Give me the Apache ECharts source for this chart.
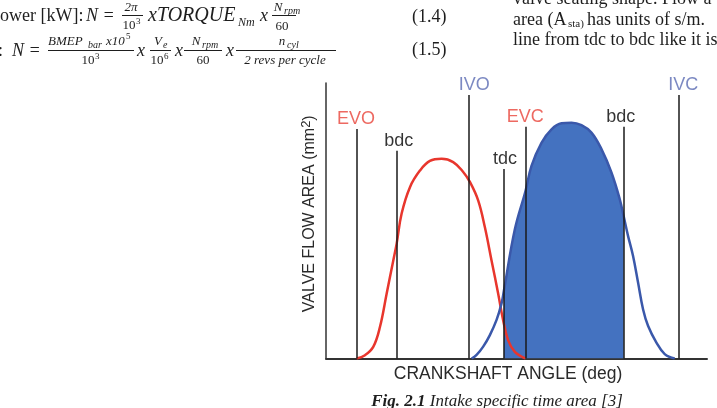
<!DOCTYPE html>
<html><head><meta charset="utf-8">
<script src="https://cdn.jsdelivr.net/npm/echarts@6/dist/echarts.min.js"></script>
<style>html,body{margin:0;padding:0;background:#fff}#c{width:717px;height:408px}</style>
</head><body><div id="c"></div>
<script>
// Exhaust valve flow area (red)
const redAngle = [116.6,129.8,142.9,153.6,164.2,174.6,180,187.9,201.1,216.9,232.7,251.3,269.6,285.5,296.1,309.2,319.8,330.5,340.9,348.8,356.8,367.4,380.5,384.3];
const redArea  = [0,1.2,4.2,11.5,23.6,35.5,41.7,52.6,62.2,68.2,71.7,72.5,71.3,67.7,64.1,57.4,47.7,35.5,23.6,13.9,6.6,2.4,0.4,0];
// Intake valve flow area (blue)
const blueAngle = [298.8,306.7,317.2,327.8,338.4,346.3,350,367.4,384.3,393.8,409.6,425.5,441.3,457.2,473,488.8,504.7,520.5,533.7,540,546.8,554.7,562.7,570.6,578.5,591.8,605,620.8];
const blueArea  = [0,1.3,4.3,8.5,14,20,24.6,46.9,60.8,69.9,78.3,83.2,85.4,85.6,84.7,82,76,67.5,57.8,51.5,44.5,37.3,27.6,17.9,11.9,5.8,1.6,0];
// Event markers
const markerNames  = ['EVO','bdc','IVO','tdc','EVC','bdc','IVC'];
const markerAngles = [117,180,295,350,384,540,628];
const markerTops   = [83.3,75.4,95.6,68.8,84.1,84.1,95.6];
const markerKinds  = ['exh','dc','int','dc','exh','dc','int'];
const shadeFrom = 350, shadeTo = 540;
const xTitle = 'CRANKSHAFT ANGLE (deg)';
const yTitle = 'VALVE FLOW AREA (mm{s|2})';
const caption = ['Fig. 2.1', ' Intake specific time area [3]'];

const kindColor = {exh:'#e8443a', int:'#5b6cb3', dc:'#000'};
const labelDx = [-1,2,5,1,0,-3,4];

const red = redAngle.map((a,i)=>[a, redArea[i]]);
const blue = blueAngle.map((a,i)=>[a, blueArea[i]]);
const shade = blue.filter(p => p[0] >= shadeFrom && p[0] <= shadeTo);

const serif = 'Liberation Serif';
const G = [];
function t(x, y, text, o) {
  o = o || {};
  G.push({type:'text', x, y, silent:true, style:{
    text, fill:o.color||'#1e1e1e', font:(o.style||'normal')+' '+(o.weight||'normal')+' '+(o.size||18)+'px "'+(o.family||serif)+'"',
    textAlign:o.align||'left', textVerticalAlign:'middle', verticalAlign:'middle'}});
}
function bar(x1, x2, y) {
  G.push({type:'line', silent:true, shape:{x1, y1:y, x2, y2:y}, style:{stroke:'#1e1e1e', lineWidth:1}});
}
// Equation 1.4
t(0,16,'ower [kW]: ');
t(86,16,'N =',{style:'italic'});
t(131,8,'2π',{size:13,align:'center',style:'italic'});
bar(122,143,15.5);
t(129,26,'10',{size:13,align:'center'}); t(136,22,'3',{size:9});
t(148,16,'xTORQUE',{style:'italic',size:20});
t(238,23,'Nm',{style:'italic',size:12});
t(260,16,'x',{style:'italic'});
t(278,8,'N',{size:13,align:'center',style:'italic'}); t(284,11,'rpm',{size:10,style:'italic'});
bar(272,296,15.5);
t(282,27,'60',{size:13,align:'center'});
t(412,17,'(1.4)');
// Equation 1.5
t(-2,51,':');
t(12,51,'N =',{style:'italic'});
t(48,42,'BMEP',{size:13,style:'italic'}); t(88,45,'bar',{size:10,style:'italic'});
t(106,42,'x10',{size:13,style:'italic'}); t(126,37,'5',{size:9});
bar(48,134,50.5);
t(88,61,'10',{size:13,align:'center'}); t(95,57,'3',{size:9});
t(137,51,'x',{style:'italic'});
t(158,42,'V',{size:13,align:'center',style:'italic'}); t(163,45,'e',{size:10,style:'italic'});
bar(150,171,50.5);
t(157,61,'10',{size:13,align:'center'}); t(164,57,'6',{size:9});
t(175,51,'x',{style:'italic'});
t(196,42,'N',{size:13,align:'center',style:'italic'}); t(202,45,'rpm',{size:10,style:'italic'});
bar(184,222,50.5);
t(203,61,'60',{size:13,align:'center'});
t(226,51,'x',{style:'italic'});
t(282,42,'n',{size:13,align:'center',style:'italic'}); t(287,45,'cyl',{size:10,style:'italic'});
bar(236,336,50.5);
t(285,61,'2 revs per cycle',{size:13,align:'center',style:'italic'});
t(412,50,'(1.5)');
// Right column text
t(513,-1,'valve seating shape. Flow a');
t(513,20,'area (A');
t(568,24,'sta)',{size:11});
t(587,20,'has units of s/m.');
t(513,40,'line from tdc to bdc like it is');
// Caption
G.push({type:'text', x:497, y:402, silent:true, style:{
  text:'{b|'+caption[0]+'}{i|'+caption[1]+'}', textAlign:'center', textVerticalAlign:'middle', verticalAlign:'middle', align:'center',
  rich:{b:{font:'italic bold 17px "Liberation Serif"', fill:'#1e1e1e', color:'#1e1e1e'}, i:{font:'italic normal 17px "Liberation Serif"', fill:'#1e1e1e', color:'#1e1e1e'}}}});

const chart = echarts.init(document.getElementById('c'), null, {renderer:'canvas'});
chart.setOption({
  animation:false,
  backgroundColor:'#fff',
  grid:{left:326, right:10, top:83, bottom:49.5, containLabel:false},
  xAxis:{type:'value', min:68, max:672, name:xTitle, nameLocation:'middle', nameGap:7,
    nameTextStyle:{fontFamily:'Liberation Sans', fontSize:17.5, color:'#2a2a2a', verticalAlign:'top', padding:[0,17,0,0]},
    axisLine:{show:true, lineStyle:{color:'#333', width:2}}, axisTick:{show:false}, axisLabel:{show:false}, splitLine:{show:false}},
  yAxis:{type:'value', min:0, max:100, name:yTitle, nameLocation:'middle', nameGap:7, nameRotate:90,
    nameTextStyle:{fontFamily:'Liberation Sans', fontSize:16, color:'#2a2a2a', verticalAlign:'bottom', padding:[0,0,0,14],
      rich:{s:{fontFamily:'Liberation Sans', fontSize:13, color:'#2a2a2a', verticalAlign:'top', padding:[0,0,6,0]}}},
    axisLine:{show:true, lineStyle:{color:'#333', width:1.5}}, axisTick:{show:false}, axisLabel:{show:false}, splitLine:{show:false}},
  series:[
    {type:'line', data:shade, smooth:0.4, symbol:'none', z:1, lineStyle:{width:0}, areaStyle:{color:'#4472c0', opacity:1}, silent:true},
    {type:'line', data:[], z:2, silent:true, markLine:{silent:true, symbol:'none', animation:false,
      lineStyle:{color:'#1a1a1a', width:1.5, type:'solid'}, label:{show:false},
      data:markerAngles.map((a,i)=>[{coord:[a,0]},{coord:[a,markerTops[i]]}])}},
    {type:'line', data:red, smooth:0.4, symbol:'none', z:3, lineStyle:{color:'#e8362d', width:2.5}, silent:true},
    {type:'line', data:blue, smooth:0.4, symbol:'none', z:4, lineStyle:{color:'#3a58aa', width:2.5}, silent:true},
    {type:'scatter', z:5, symbolSize:0, silent:true,
      data:markerAngles.map((a,i)=>({value:[a, markerTops[i]], label:{color:kindColor[markerKinds[i]], offset:[labelDx[i],0]}})),
      label:{show:true, position:'top', distance:1, fontFamily:'Liberation Sans', fontSize:18,
        formatter:p=>markerNames[p.dataIndex]}}
  ],
  graphic:G
});
</script></body></html>
